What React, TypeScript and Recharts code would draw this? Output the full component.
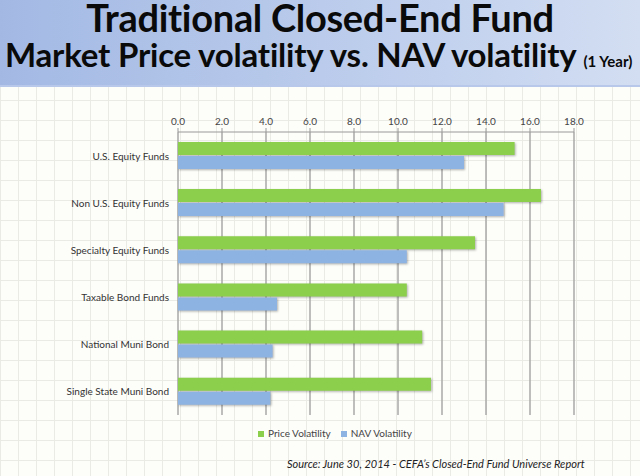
import React from 'react'
import { BarChart, Bar, XAxis, YAxis, CartesianGrid, Legend } from 'recharts'

const categories = [
	'U.S. Equity Funds',
	'Non U.S. Equity Funds',
	'Specialty Equity Funds',
	'Taxable Bond Funds',
	'National Muni Bond',
	'Single State Muni Bond',
]
const seriesNames = ['Price Volatility', 'NAV Volatility']
const priceVolatility = [15.3, 16.5, 13.5, 10.4, 11.1, 11.5]
const navVolatility = [13.0, 14.8, 10.4, 4.5, 4.3, 4.2]
const xTicks = [0, 2, 4, 6, 8, 10, 12, 14, 16, 18]
const boundaryTicks = [0, 1, 2, 3, 4, 5, 6]

const data = categories.map((name, i) => ({
	name,
	price: priceVolatility[i],
	nav: navVolatility[i],
}))

const font = 'Lato, "Open Sans", sans-serif'

// plain text so recharts does not wrap the long names
const CategoryTick = (props: any) => {
	const { x, y, payload } = props
	return (
		<text x={x} y={y} dy={4} textAnchor='end' fontSize={10} fill='#333' fontFamily={font}>
			{payload.value}
		</text>
	)
}

const App = () => {
	return (
		<div
			style={{
				position: 'absolute',
				left: 0,
				top: 0,
				width: 640,
				height: 476,
				overflow: 'hidden',
				fontFamily: font,
				backgroundColor: '#fdfdfa',
				backgroundImage:
					'linear-gradient(to right, #ebebe5 1px, transparent 1px), linear-gradient(to bottom, #ebebe5 1px, transparent 1px)',
				backgroundSize: '18px 20px',
			}}>
			<div
				style={{
					position: 'absolute',
					left: 0,
					top: 0,
					width: 640,
					height: 85,
					background: 'linear-gradient(to right, #a3b9e4, #c3d2ee 70%, #d3def2)',
					borderBottom: '2px solid #b7c8ea',
				}}>
				<div
					style={{
						position: 'absolute',
						left: 0,
						top: 1,
						width: 640,
						textAlign: 'center',
						fontSize: 38,
						lineHeight: '32px',
						fontWeight: 700,
						color: '#0a0a0a',
						letterSpacing: -0.3,
					}}>
					Traditional Closed-End Fund
				</div>
				<div
					style={{
						position: 'absolute',
						left: 5,
						top: 39,
						whiteSpace: 'nowrap',
						fontSize: 33,
						lineHeight: '30px',
						fontWeight: 700,
						color: '#0a0a0a',
						letterSpacing: -0.2,
					}}>
					Market Price volatility vs. NAV volatility{' '}
					<span style={{ fontSize: 15, letterSpacing: 0 }}>(1 Year)</span>
				</div>
			</div>
			<div style={{ position: 'absolute', left: 0, top: 0 }}>
				<BarChart
					width={640}
					height={476}
					data={data}
					layout='vertical'
					barCategoryGap='21%'
					barGap={1}
					margin={{ top: 102, right: 66, left: 60, bottom: 61 }}>
					<CartesianGrid horizontal={false} stroke='#a9a9a9' strokeWidth={1.5} />
					<XAxis
						type='number'
						orientation='top'
						domain={[0, 18]}
						ticks={xTicks}
						tickFormatter={(v: number) => v.toFixed(1)}
						tick={{ fontSize: 10, fill: '#444', fontFamily: font }}
						tickSize={4}
						tickMargin={3}
						stroke='#999'
						height={30}
					/>
					<YAxis
						yAxisId='edge'
						type='number'
						domain={[0, 6]}
						ticks={boundaryTicks}
						tick={false}
						tickSize={4}
						stroke='#999'
						width={0}
					/>
					<YAxis
						yAxisId='cat'
						type='category'
						dataKey='name'
						axisLine={false}
						tickLine={false}
						tickSize={6}
						tickMargin={3}
						tick={<CategoryTick />}
						width={118}
					/>
					<Legend
						layout='horizontal'
						verticalAlign='middle'
						align='center'
						iconType='square'
						iconSize={6}
						itemSorter={(item: any) => seriesNames.indexOf(item.value)}
						wrapperStyle={{ top: 427, left: 258, width: 'auto', fontSize: 10, fontFamily: font }}
						formatter={(value: string) => <span style={{ color: '#444' }}>{value}</span>}
					/>
					<Bar
						yAxisId='cat'
						dataKey='price'
						name={seriesNames[0]}
						fill='#8ccf4d'
						isAnimationActive={false}
						style={{ filter: 'drop-shadow(1px 1px 1px rgba(0,0,0,0.3))' }}
					/>
					<Bar
						yAxisId='cat'
						dataKey='nav'
						name={seriesNames[1]}
						fill='#8db3e2'
						isAnimationActive={false}
						style={{ filter: 'drop-shadow(1px 1px 1px rgba(0,0,0,0.3))' }}
					/>
				</BarChart>
			</div>
			<div
				style={{
					position: 'absolute',
					left: 287,
					top: 457,
					whiteSpace: 'nowrap',
					fontSize: 11,
					fontStyle: 'italic',
					color: '#222',
				}}>
				Source: June 30, 2014 - CEFA’s Closed-End Fund Universe Report
			</div>
		</div>
	)
}

export default App
